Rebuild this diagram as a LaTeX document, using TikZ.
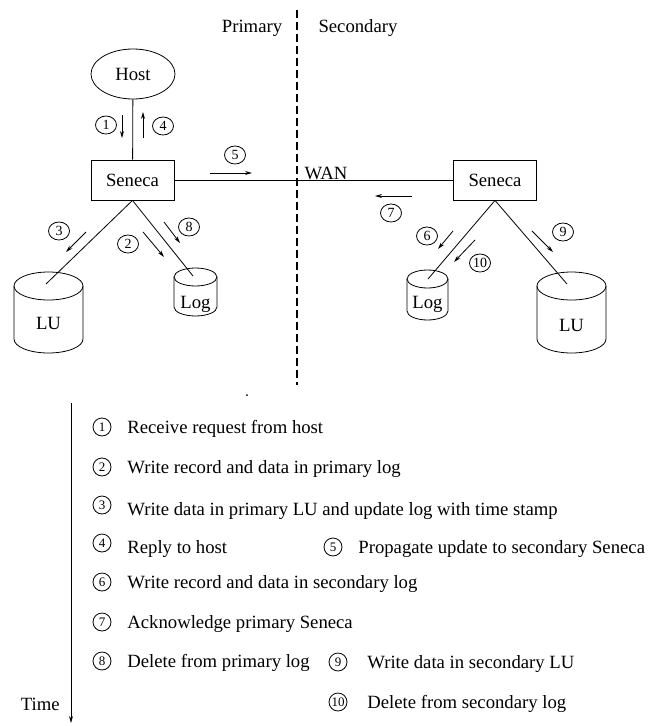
\documentclass[tikz,border=0pt]{standalone}
\usepackage{fontspec}
\setmainfont{Liberation Serif}
\usetikzlibrary{arrows.meta,shapes.geometric}
\def\drum(#1,#2)(#3:#4:#5){\draw (#1-#3,#2) -- (#1-#3,#5) arc (180:0:#3 and #4) -- (#1+#3,#2); \draw (#1,#2) ellipse (#3 and #4);}

\begin{document}
\begin{tikzpicture}[x=1pt,y=-1pt,line width=0.8pt,
	every node/.style={font=\fontsize{18.7}{22}\selectfont},
	senbox/.style={draw,minimum width=83pt,minimum height=40pt},
	num/.style={draw,ellipse,inner sep=0pt,minimum width=21pt,minimum height=18pt,font=\fontsize{14}{14}\selectfont},
	lnum/.style={draw,circle,inner sep=0pt,minimum size=18pt,font=\fontsize{13}{13}\selectfont},
	tip/.style={-{Stealth[length=7pt,width=4pt]}},
	item/.style={anchor=base west,inner sep=0pt}]
			%%%%% START %%%%%
			\useasboundingbox (0,0) rectangle (656,726);
			
			\coordinate (divtop) at (297,10);
			\coordinate (divbot) at (297,385);
			\draw[line width=1.8pt, dash pattern=on 8pt off 4pt] (divtop) -- (divbot);
			\node at (252,28) {Primary};
			\node at (358,28) {Secondary};
			
			\node[draw,ellipse,minimum width=84pt,minimum height=50pt] (host) at (133,74) {Host};
			\node[senbox] (senP) at (132.5,180) {Seneca};
			\node[senbox] (senS) at (495,180) {Seneca};
			\draw (host) -- (senP);
			\draw (senP) -- (senS);
			\node (wan) at (326,173) {WAN};
			
			\drum(48.5,286)(34.5:14:339)
			\node (luP) at (48.5,323) {LU};
			\drum(195.5,277)(21.5:9:307)
			\node (logP) at (195.5,304) {Log};
			\drum(427.5,279)(20.5:9:311)
			\node (logS) at (427.5,304) {Log};
			\drum(571.5,286)(34.5:14:339)
			\node (luS) at (571.5,325) {LU};
			
			\coordinate (luPtop) at (46,284);
			\coordinate (logPtop) at (193,276);
			\coordinate (logStop) at (428,279);
			\coordinate (luStop) at (567,284);
			\draw (senP.south) -- (luPtop);
			\draw (senP.south) -- (logPtop);
			\draw (senS.south) -- (logStop);
			\draw (senS.south) -- (luStop);
			
			\node[num] (n1) at (106,125) {1};
			\draw[tip] ([shift={(16,-10)}]n1.center) -- ++(0,23);
			\node[num] (n4) at (163,126) {4};
			\draw[tip] ([shift={(-20,12)}]n4.center) -- ++(0,-26);
			\node[num] (n5) at (235,155) {5};
			\draw[tip] ([shift={(-25,18)}]n5.center) -- ++(42,0);
			\node[num] (n7) at (391,213) {7};
			\draw[tip] ([shift={(21,-17)}]n7.center) -- ++(-37,0);
			\node[num] (n3) at (59,231) {3};
			\draw[tip] ([shift={(27,1)}]n3.center) -- ++(-20,20);
			\node[num] (n2) at (128,244) {2};
			\draw[tip] ([shift={(15,-12)}]n2.center) -- ++(21,25);
			\node[num] (n8) at (189,227) {8};
			\draw[tip] ([shift={(-25,-5)}]n8.center) -- ++(16,21);
			\node[num] (n6) at (427,236) {6};
			\draw[tip] ([shift={(26,-5)}]n6.center) -- ++(-15,18);
			\node[num] (n10) at (480,263) {10};
			\draw[tip] ([shift={(-5,-23)}]n10.center) -- ++(-21,22);
			\node[num] (n9) at (563,232) {9};
			\draw[tip] ([shift={(-31,-1)}]n9.center) -- ++(21,21);
			
			\fill (247,395) circle (1);
			
			% time line
			\coordinate (tstart) at (71,403);
			\coordinate (tend) at (71,723);
			\draw[tip] (tstart) -- (tend);
			\node[anchor=base east,inner sep=0pt] (time) at (60,710) {Time};
			
			\node[lnum] (l1) at (102,427) {1};
			\node[item] (t1) at (127,433.5) {Receive request from host};
			\node[lnum] (l2) at (102,467) {2};
			\node[item] (t2) at (127,473.5) {Write record and data in primary log};
			\node[lnum] (l3) at (102,505) {3};
			\node[item] (t3) at (127,515.5) {Write data in primary LU and update log with time stamp};
			\node[lnum] (l4) at (102,543) {4};
			\node[item] (t4) at (127,553) {Reply to host};
			\node[lnum] (l5) at (333,547) {5};
			\node[item] (t5) at (358,553) {Propagate update to secondary Seneca};
			\node[lnum] (l6) at (102,582) {6};
			\node[item] (t6) at (127,588.5) {Write record and data in secondary log};
			\node[lnum] (l7) at (102,622) {7};
			\node[item] (t7) at (127,628.5) {Acknowledge primary Seneca};
			\node[lnum] (l8) at (102,661) {8};
			\node[item] (t8) at (127,667.5) {Delete from primary log};
			\node[lnum] (l9) at (338,662) {9};
			\node[item] (t9) at (367,668) {Write data in secondary LU};
			\node[lnum] (l10) at (338,702) {10};
			\node[item] (t10) at (367,708.5) {Delete from secondary log};
			
			%%%%% END %%%%%
\end{tikzpicture}
\end{document}
